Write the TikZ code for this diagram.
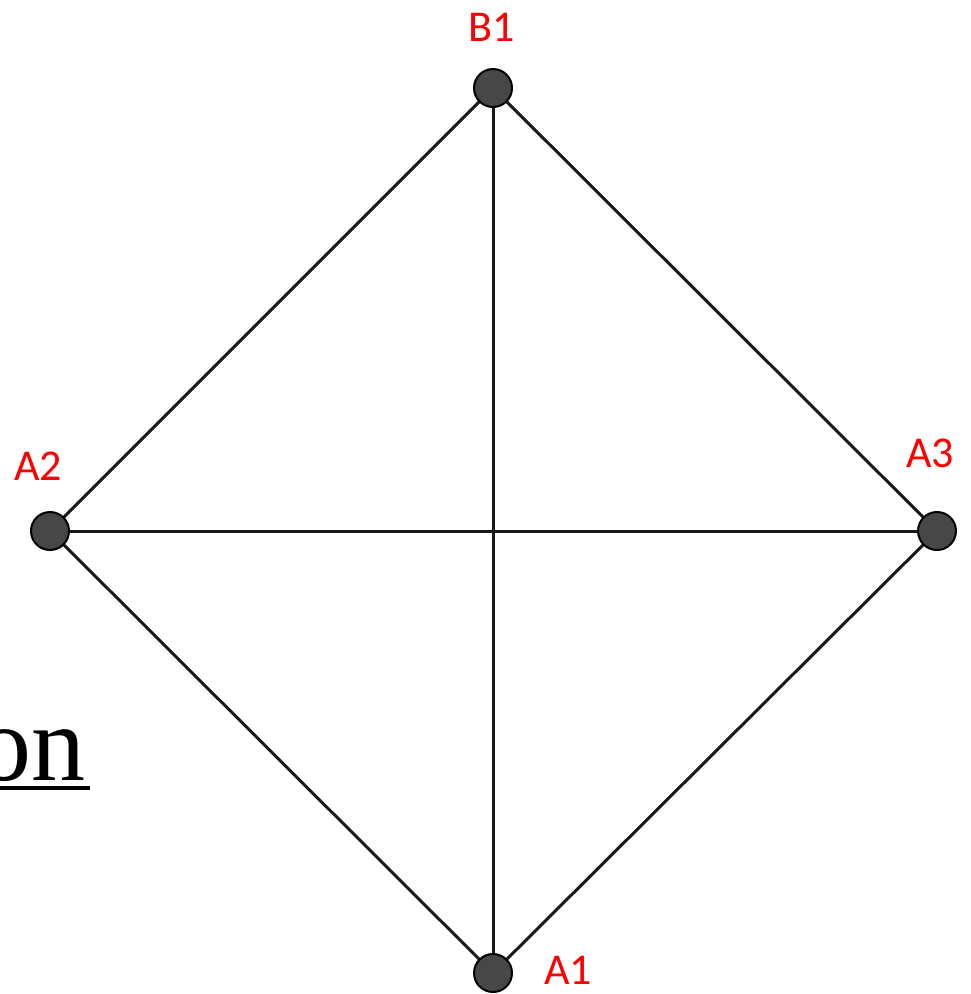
\documentclass[tikz,border=0pt]{standalone}
\usepackage{fontspec}
\setmainfont{Liberation Serif}
\newfontfamily\lblfont{Carlito}
\begin{document}
\begin{tikzpicture}[x=1pt,y=-1pt,
  vertex/.style={circle,fill=black!72,draw=black,line width=2pt,minimum size=38pt,inner sep=0pt},
  edge/.style={line width=3pt,black!90},
  lbl/.style={text=red,font=\lblfont\fontsize{44}{44}\selectfont,inner sep=0pt}]
\useasboundingbox (0,0) rectangle (971,994);
\coordinate (cB1) at (493,88);
\coordinate (cA2) at (50,531);
\coordinate (cA3) at (937,531);
\coordinate (cA1) at (493,973);
\draw[edge] (cB1) -- (cA2) -- (cA1) -- (cA3) -- cycle;
\draw[edge] (cB1) -- (cA1);
\draw[edge] (cA2) -- (cA3);
\node[vertex] (B1) at (cB1) {};
\node[vertex] (A2) at (cA2) {};
\node[vertex] (A3) at (cA3) {};
\node[vertex] (A1) at (cA1) {};
\node[lbl] (lB1) at (492,27) {B1};
\node[lbl] (lA2) at (38,466) {A2};
\node[lbl] (lA3) at (930,453) {A3};
\node[lbl] (lA1) at (568,970) {A1};
\node[anchor=base east,inner sep=0pt,font=\fontsize{108}{108}\selectfont] (t) at (86,780) {on};
\coordinate (u1) at (0,788);
\coordinate (u2) at (90,788);
\draw[line width=4pt] (u1) -- (u2);
\end{tikzpicture}
\end{document}
